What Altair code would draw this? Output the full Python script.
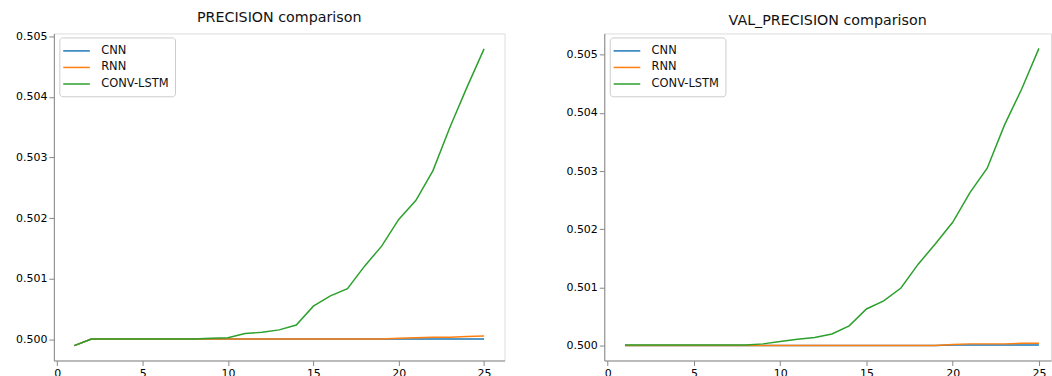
import altair as alt
import pandas as pd

epochs = list(range(1, 26))
series_names = ["CNN", "RNN", "CONV-LSTM"]
series_colors = ["#1f77b4", "#ff7f0e", "#2ca02c"]
x_ticks = [0, 5, 10, 15, 20, 25]
y_ticks = [0.500, 0.501, 0.502, 0.503, 0.504, 0.505]

prec_cnn = [0.49990, 0.50001, 0.50001, 0.50001, 0.50001, 0.50001, 0.50001, 0.50001, 0.50001, 0.50001,
            0.50001, 0.50001, 0.50001, 0.50001, 0.50001, 0.50001, 0.50001, 0.50001, 0.50001, 0.50001,
            0.50001, 0.50001, 0.50001, 0.50001, 0.50001]
prec_rnn = [0.49990, 0.50001, 0.50001, 0.50001, 0.50001, 0.50001, 0.50001, 0.50001, 0.50001, 0.50001,
            0.50001, 0.50001, 0.50001, 0.50001, 0.50001, 0.50001, 0.50001, 0.50001, 0.50001, 0.50002,
            0.50003, 0.50004, 0.50004, 0.50005, 0.50006]
prec_conv = [0.49990, 0.50001, 0.50001, 0.50001, 0.50001, 0.50001, 0.50001, 0.50001, 0.50002, 0.50003,
             0.50010, 0.50012, 0.50016, 0.50024, 0.50055, 0.50072, 0.50084, 0.50121, 0.50154, 0.50198,
             0.50229, 0.50278, 0.50350, 0.50416, 0.50479]

val_cnn = [0.50000, 0.50000, 0.50000, 0.50000, 0.50000, 0.50000, 0.50000, 0.50000, 0.50000, 0.50000,
           0.50000, 0.50000, 0.50000, 0.50000, 0.50000, 0.50000, 0.50000, 0.50000, 0.50000, 0.50001,
           0.50001, 0.50001, 0.50001, 0.50001, 0.50001]
val_rnn = [0.50000, 0.50000, 0.50000, 0.50000, 0.50000, 0.50000, 0.50000, 0.50000, 0.50000, 0.50000,
           0.50000, 0.50000, 0.50000, 0.50000, 0.50000, 0.50000, 0.50000, 0.50000, 0.50000, 0.50002,
           0.50003, 0.50003, 0.50003, 0.50004, 0.50004]
val_conv = [0.50001, 0.50001, 0.50001, 0.50001, 0.50001, 0.50001, 0.50001, 0.50001, 0.50003, 0.50007,
            0.50011, 0.50014, 0.50020, 0.50034, 0.50063, 0.50077, 0.50099, 0.50140, 0.50175, 0.50212,
            0.50263, 0.50305, 0.50379, 0.50441, 0.50511]

FONT = "DejaVu Sans"


def panel(title, vals, ydom, xdom, width):
    rows = []
    for name, v in zip(series_names, vals):
        for e, y in zip(epochs, v):
            rows.append({"epoch": e, "value": y, "model": name})
    df = pd.DataFrame(rows)
    return alt.Chart(df, title=alt.Title(title, fontSize=14.3, font=FONT, fontWeight="normal",
                                         color="#111", anchor="middle", offset=5)).mark_line(
        strokeWidth=1.5
    ).encode(
        x=alt.X("epoch:Q", scale=alt.Scale(domain=xdom, nice=False, zero=False),
                axis=alt.Axis(values=x_ticks, title=None, grid=False, format="d",
                              labelFontSize=11, labelFont=FONT,
                              minExtent=16, maxExtent=16)),
        y=alt.Y("value:Q", scale=alt.Scale(domain=ydom, nice=False, zero=False),
                axis=alt.Axis(values=y_ticks, title=None, grid=False, format=".3f",
                              labelFontSize=11, labelFont=FONT,
                              minExtent=40, maxExtent=40)),
        color=alt.Color("model:N", scale=alt.Scale(domain=series_names, range=series_colors),
                        legend=alt.Legend(title=None, orient="none", legendX=5.5, legendY=4,
                                          symbolType="M-2,0H2", symbolSize=178, symbolStrokeWidth=1.5,
                                          symbolOffset=3.75,
                                          labelFontSize=11.5, labelFont=FONT, labelColor="#111",
                                          labelOffset=17.2, strokeColor="#cccccc", fillColor="white",
                                          cornerRadius=3, padding=6, rowPadding=3.6)),
    ).properties(width=width, height=328)


left = panel("PRECISION comparison", [prec_cnn, prec_rnn, prec_conv],
             [0.499655, 0.505045], [-0.2, 26.2], 452)
right = panel("VAL_PRECISION comparison", [val_cnn, val_rnn, val_conv],
              [0.499744, 0.505366], [-0.2, 25.7], 448)

chart = alt.hconcat(left, right, spacing=58).resolve_legend(color="independent").properties(
    padding={"left": 13, "top": 9, "right": 0, "bottom": 0}
).configure_view(stroke="#333", strokeWidth=1).configure_axis(
    labelFont=FONT, labelFontSize=11, labelColor="#222", tickColor="#222",
    tickSize=3.5, labelPadding=3.5, domain=False
).configure(background="white")

chart.save("out.html", embed_options={"renderer": "svg", "actions": False})
